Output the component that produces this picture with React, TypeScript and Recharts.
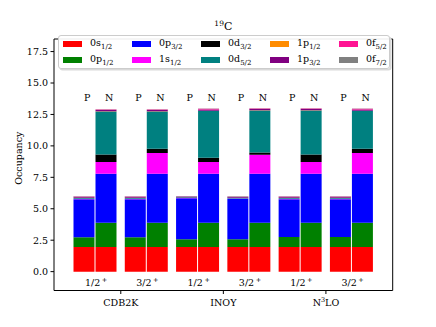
import React from 'react';
import { ComposedChart, Bar, XAxis, YAxis, ReferenceDot } from 'recharts';

// ---- categories ----
const stateLabels = ['1/2', '3/2', '1/2', '3/2', '1/2', '3/2'];
const interactionNames = ['CDB2K', 'INOY', 'N3LO'];
const yTicks = [0, 2.5, 5, 7.5, 10, 12.5, 15, 17.5];

// ---- orbitals (stack order bottom → top) ----
const orbitalKeys = ['0s12', '0p12', '0p32', '1s12', '0d32', '0d52', '1p12', '1p32', '0f52', '0f72'];
const orbitalMain = ['0s', '0p', '0p', '1s', '0d', '0d', '1p', '1p', '0f', '0f'];
const orbitalSub = ['1/2', '1/2', '3/2', '1/2', '3/2', '5/2', '1/2', '3/2', '5/2', '7/2'];
const orbitalColors = ['#ff0000', '#008000', '#0000ff', '#ff00ff', '#000000', '#008080', '#ff8c00', '#800080', '#ff1493', '#808080'];

// ---- proton occupancies (per state) ----
const P_0s12 = [1.95, 1.95, 1.95, 1.95, 1.95, 1.95];
const P_0p12 = [0.79, 0.79, 0.63, 0.63, 0.81, 0.81];
const P_0p32 = [3.02, 3.02, 3.26, 3.21, 3.0, 3.0];
const P_1s12 = [0.03, 0.03, 0.02, 0.02, 0.03, 0.03];
const P_0d32 = [0.01, 0.01, 0.01, 0.01, 0.01, 0.01];
const P_0d52 = [0.06, 0.06, 0.04, 0.05, 0.06, 0.06];
const P_1p12 = [0.01, 0.01, 0.01, 0.01, 0.01, 0.01];
const P_1p32 = [0.08, 0.08, 0.05, 0.06, 0.08, 0.08];
const P_0f52 = [0.02, 0.02, 0.01, 0.02, 0.02, 0.02];
const P_0f72 = [0.03, 0.03, 0.02, 0.03, 0.03, 0.03];

// ---- neutron occupancies (per state) ----
const N_0s12 = [1.95, 1.95, 1.95, 1.95, 1.95, 1.95];
const N_0p12 = [1.93, 1.93, 1.93, 1.93, 1.93, 1.93];
const N_0p32 = [3.9, 3.9, 3.9, 3.9, 3.9, 3.9];
const N_1s12 = [0.93, 1.65, 0.93, 1.51, 0.93, 1.65];
const N_0d32 = [0.61, 0.34, 0.34, 0.18, 0.61, 0.34];
const N_0d52 = [3.42, 2.97, 3.74, 3.35, 3.5, 3.02];
const N_1p12 = [0.01, 0.01, 0.01, 0.01, 0.01, 0.01];
const N_1p32 = [0.1, 0.1, 0.1, 0.1, 0.1, 0.1];
const N_0f52 = [0.05, 0.05, 0.05, 0.05, 0.05, 0.05];
const N_0f72 = [0.02, 0.02, 0.02, 0.02, 0.02, 0.02];

const protonSeries = [P_0s12, P_0p12, P_0p32, P_1s12, P_0d32, P_0d52, P_1p12, P_1p32, P_0f52, P_0f72];
const neutronSeries = [N_0s12, N_0p12, N_0p32, N_1s12, N_0d32, N_0d52, N_1p12, N_1p32, N_0f52, N_0f72];

const tableData = stateLabels.map((s, i) => {
  const row: Record<string, any> = { id: 'g' + i, state: s };
  orbitalKeys.forEach((k, j) => {
    row['p' + k] = protonSeries[j][i];
    row['n' + k] = neutronSeries[j][i];
  });
  return row;
});

// ---- layout ----
const W = 436;
const H = 327;
const MARGIN = { top: 38, right: 42.3, bottom: 16, left: 0 };
const Y_AXIS_W = 54;
const X_AXIS_H = 20.5;
const PAD = 15.5;
const BAR = 21;
const GAP = 1;
const PLOT_W = W - MARGIN.left - MARGIN.right - Y_AXIS_W - 1;
const BAND = (PLOT_W - 2 * PAD) / stateLabels.length;
const AXIS_Y = H - MARGIN.bottom - X_AXIS_H;
const PLOT_CX = Y_AXIS_W + PLOT_W / 2;
const FONT = '"DejaVu Serif", serif';
const PN_Y = 13.8;
const STATE_Y = -0.87;

const GroupTick = (props: any) => {
  const { x, payload } = props;
  const idx = payload.index;
  if (idx % 2 !== 0) return <g />;
  const cx = x + BAND / 2;
  const name = interactionNames[idx / 2];
  return (
    <g>
      <line x1={cx} x2={cx} y1={AXIS_Y} y2={AXIS_Y + 3.5} stroke="#000" strokeWidth={1} />
      <text x={cx} y={AXIS_Y + 15} textAnchor="middle" fontFamily={FONT} fontSize={9.5} fill="#000">
        {name === 'N3LO' ? (
          <>
            N<tspan dy={-4} fontSize={6.5}>3</tspan>
            <tspan dy={4}>LO</tspan>
          </>
        ) : (
          name
        )}
      </text>
    </g>
  );
};

const PNShape = (props: any) => {
  const { cx, cy } = props;
  return (
    <g>
      <text x={cx - (BAR + GAP) / 2 + 3} y={cy} dy="0.35em" textAnchor="middle" fontFamily={FONT} fontSize={9.5} fill="#000">P</text>
      <text x={cx + (BAR + GAP) / 2 + 3} y={cy} dy="0.35em" textAnchor="middle" fontFamily={FONT} fontSize={9.5} fill="#000">N</text>
    </g>
  );
};

const makeStateShape = (label: string) => (props: any) => {
  const { cx, cy } = props;
  return (
    <text x={cx + 1} y={cy} dy="0.35em" textAnchor="middle" fontFamily={FONT} fontSize={9.5} fill="#000">
      {label}
      <tspan dx={1.5} dy={-4} fontSize={6.5}>+</tspan>
    </text>
  );
};

const Legend = () => (
  <div
    style={{
      position: 'absolute',
      left: 57.5,
      top: 35,
      width: 332.5,
      height: 34,
      boxSizing: 'border-box',
      background: 'rgba(255,255,255,0.92)',
      border: '1px solid #cccccc',
      borderRadius: 3,
      boxShadow: '1.5px 1.5px 0 #d9d9d9',
      fontFamily: FONT,
      fontSize: 9.5,
      color: '#000',
    }}
  >
    {orbitalKeys.map((k, j) => {
      const col = Math.floor(j / 2);
      const row = j % 2;
      const left = 4 + col * 69;
      const top = 5.3 + row * 16;
      return (
        <div key={k} style={{ position: 'absolute', left, top, height: 6, whiteSpace: 'nowrap' }}>
          <div style={{ position: 'absolute', left: 0, top: 0, width: 19, height: 6, background: orbitalColors[j] }} />
          <div style={{ position: 'absolute', left: 27.5, top: -5, lineHeight: '14px' }}>
            {orbitalMain[j]}
            <sub style={{ fontSize: 7, verticalAlign: 'baseline', position: 'relative', top: 2.5 }}>{orbitalSub[j]}</sub>
          </div>
        </div>
      );
    })}
  </div>
);

export default function App() {
  return (
    <div style={{ position: 'absolute', left: 0, top: 0, width: W, height: H, background: '#fff' }}>
      <ComposedChart
        width={W}
        height={H}
        data={tableData}
        margin={MARGIN}
        barSize={BAR}
        barGap={GAP}
      >
        <XAxis
          dataKey="id"
          type="category"
          padding={{ left: PAD, right: PAD }}
          height={X_AXIS_H}
          tickLine={false}
          axisLine={{ stroke: '#000', strokeWidth: 1 }}
          tick={<GroupTick />}
          interval={0}
        />
        <XAxis xAxisId="top" orientation="top" dataKey="id" height={1} tick={false} tickLine={false} axisLine={{ stroke: '#000', strokeWidth: 1 }} />
        <YAxis
          type="number"
          domain={[-1.5, 18.5]}
          ticks={yTicks}
          width={Y_AXIS_W}
          tickSize={3.5}
          tickMargin={2.5}
          tickFormatter={(v: number) => v.toFixed(1)}
          tick={{ fontFamily: FONT, fontSize: 9.5, fill: '#000' }}
          axisLine={{ stroke: '#000', strokeWidth: 1 }}
          tickLine={{ stroke: '#000', strokeWidth: 1 }}
          allowDataOverflow
          label={{ value: 'Occupancy', angle: -90, position: 'insideLeft', dx: 14, dy: 20, style: { fontFamily: FONT, fontSize: 9.5, fill: '#000' } }}
        />
        <YAxis yAxisId="right" orientation="right" width={1} domain={[0, 1]} tick={false} tickLine={false} axisLine={{ stroke: '#000', strokeWidth: 1 }} />
        {orbitalKeys.map((k, j) => (
          <Bar key={'p' + k} dataKey={'p' + k} stackId="P" fill={orbitalColors[j]} isAnimationActive={false} />
        ))}
        {orbitalKeys.map((k, j) => (
          <Bar key={'n' + k} dataKey={'n' + k} stackId="N" fill={orbitalColors[j]} isAnimationActive={false} />
        ))}
        {tableData.map((d) => (
          <ReferenceDot key={'pn' + d.id} x={d.id} y={PN_Y} r={1} shape={<PNShape />} ifOverflow="visible" />
        ))}
        {tableData.map((d) => (
          <ReferenceDot key={'st' + d.id} x={d.id} y={STATE_Y} r={1} shape={makeStateShape(d.state)} ifOverflow="visible" />
        ))}
      </ComposedChart>
      <Legend />
      <div
        style={{
          position: 'absolute',
          left: PLOT_CX - 40,
          width: 80,
          top: 20,
          textAlign: 'center',
          fontFamily: FONT,
          fontSize: 11,
          lineHeight: '14px',
          color: '#000',
        }}
      >
        <sup style={{ fontSize: 7.5, verticalAlign: 'baseline', position: 'relative', top: -4 }}>19</sup>C
      </div>
    </div>
  );
}
